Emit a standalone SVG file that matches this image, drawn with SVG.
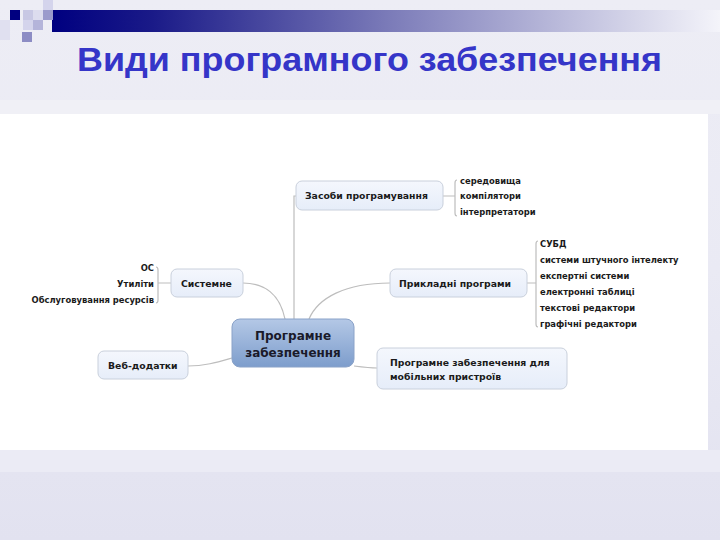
<svg xmlns="http://www.w3.org/2000/svg" width="720" height="540" viewBox="0 0 720 540">
<defs>
<linearGradient id="bg" x1="0" y1="0" x2="0" y2="1">
<stop offset="0" stop-color="#ededf5"/>
<stop offset="0.5" stop-color="#eaeaf4"/>
<stop offset="1" stop-color="#e2e2f0"/>
</linearGradient>
<linearGradient id="bar" x1="0" y1="0" x2="1" y2="0">
<stop offset="0" stop-color="#000080"/>
<stop offset="0.15" stop-color="#1a1a88"/>
<stop offset="0.5" stop-color="#7a7ab8"/>
<stop offset="0.8" stop-color="#c4c4e0"/>
<stop offset="1" stop-color="#f4f4fa"/>
</linearGradient>
<linearGradient id="central" x1="0" y1="0" x2="0" y2="1">
<stop offset="0" stop-color="#b4c8e6"/>
<stop offset="1" stop-color="#7d9dcc"/>
</linearGradient>
<linearGradient id="node" x1="0" y1="0" x2="0" y2="1">
<stop offset="0" stop-color="#f4f7fd"/>
<stop offset="1" stop-color="#e6edf9"/>
</linearGradient>
<style>
.n{fill:url(#node);stroke:#c9d0dc;stroke-width:1}
.c{fill:url(#central);stroke:#8aa2c8;stroke-width:1}
.t{font-family:"DejaVu Sans",Verdana,sans-serif;font-weight:bold;font-size:9.3px;fill:#1a1a1a}
.ct{font-family:"DejaVu Sans",Verdana,sans-serif;font-weight:bold;font-size:12px;fill:#1a1a2a}
.l{font-family:"DejaVu Sans",Verdana,sans-serif;font-weight:bold;font-size:8.4px;fill:#1a1a1a}
.k{fill:none;stroke:#bdbdbd;stroke-width:1.2}
</style>
</defs>
<rect x="0" y="0" width="720" height="540" fill="url(#bg)"/>
<rect x="0" y="100" width="720" height="14" fill="#f0f0f6"/>
<rect x="0" y="450" width="720" height="22" fill="#ebebf5"/>
<!-- header decoration -->
<rect x="52" y="10" width="668" height="22" fill="url(#bar)"/>
<rect x="10" y="10" width="10" height="10" fill="#000080"/>
<rect x="23" y="10" width="10" height="10" fill="#c8c8e4"/>
<rect x="33" y="10" width="10" height="10" fill="#dcdcee"/>
<rect x="43" y="10" width="10" height="10" fill="#9a9acc"/>
<rect x="43" y="0" width="10" height="10" fill="#d4d4ec"/>
<rect x="23" y="20" width="10" height="10" fill="#d4d4ec"/>
<rect x="33" y="20" width="10" height="10" fill="#b4b4da"/>
<rect x="22" y="32" width="10" height="10" fill="#8c8cc4"/>
<rect x="0" y="20" width="10" height="20" fill="#e0e0f0"/>
<text x="77" y="71" textLength="585" lengthAdjust="spacingAndGlyphs" font-family="'Liberation Sans',Arial,sans-serif" font-weight="bold" font-size="34" fill="#3535c8">Види програмного забезпечення</text>
<!-- panel -->
<rect x="0" y="114" width="708" height="336" fill="#ffffff"/>
<g id="connectors">
<path class="k" d="M294,320 L294,196 L296,196"/>
<path class="k" d="M243,283 C265,283 280,295 285,319"/>
<path class="k" d="M390,283 C345,283 318,298 309,319"/>
<path class="k" d="M188,366 C205,366 218,362 232,358"/>
<path class="k" d="M354,366 C362,367 370,368 377,368"/>
<path class="k" d="M443,196 L455,196 M457,180 Q455,180 455,183 L455,213 Q455,216 457,216"/>
<path class="k" d="M171,283 L158,283 M156,267 Q158,267 158,270 L158,300 Q158,303 156,303"/>
<path class="k" d="M527,283 L536,283 M538,241 Q536,241 536,244 L536,324 Q536,327 538,327"/>
</g>
<g id="central-node">
<rect class="c" x="232" y="319" width="122" height="48" rx="8"/>
<text class="ct" x="293" y="340" text-anchor="middle">Програмне</text>
<text class="ct" x="293" y="357" text-anchor="middle">забезпечення</text>
</g>
<g id="node-zasoby">
<rect class="n" x="296" y="181" width="147" height="29" rx="6"/>
<text class="t" x="305" y="199">Засоби програмування</text>
</g>
<g id="leaves-zasoby">
<text class="l" x="460" y="184">середовища</text>
<text class="l" x="460" y="199">компілятори</text>
<text class="l" x="460" y="215">інтерпретатори</text>
</g>
<g id="node-systemne">
<rect class="n" x="171" y="269" width="72" height="28" rx="6"/>
<text class="t" x="181" y="287">Системне</text>
</g>
<g id="leaves-systemne">
<text class="l" x="154" y="271" text-anchor="end">ОС</text>
<text class="l" x="154" y="287" text-anchor="end">Утиліти</text>
<text class="l" x="154" y="303" text-anchor="end">Обслуговування ресурсів</text>
</g>
<g id="node-prykladni">
<rect class="n" x="390" y="269" width="137" height="28" rx="6"/>
<text class="t" x="399" y="287">Прикладні програми</text>
</g>
<g id="leaves-prykladni">
<text class="l" x="540" y="247">СУБД</text>
<text class="l" x="540" y="263">системи штучного інтелекту</text>
<text class="l" x="540" y="279">експертні системи</text>
<text class="l" x="540" y="295">електронні таблиці</text>
<text class="l" x="540" y="311">текстові редактори</text>
<text class="l" x="540" y="327">графічні редактори</text>
</g>
<g id="node-veb">
<rect class="n" x="98" y="351" width="90" height="28" rx="6"/>
<text class="t" x="108" y="369">Веб-додатки</text>
</g>
<g id="node-mobile">
<rect class="n" x="377" y="348" width="190" height="41" rx="6"/>
<text class="t" x="390" y="366">Програмне забезпечення для</text>
<text class="t" x="390" y="380">мобільних пристроїв</text>
</g>
</svg>
